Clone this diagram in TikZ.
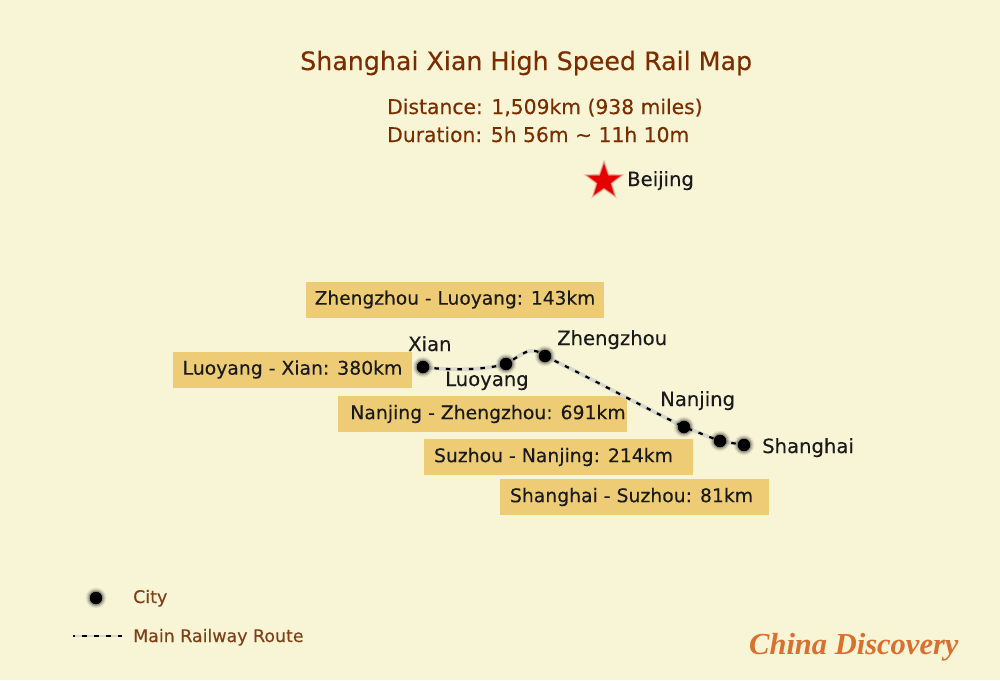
\documentclass[tikz,border=0pt]{standalone}
\usepackage{fontspec}
\setmainfont{DejaVu Sans}[RawFeature={embolden=0.25}]
\newfontfamily\logofont{Liberation Serif}
\usetikzlibrary{shapes.geometric}
\definecolor{paper}{HTML}{F8F4D6}
\definecolor{brown}{HTML}{7A2E00}
\definecolor{legendc}{HTML}{7F3F17}
\definecolor{boxc}{HTML}{EDCC75}
\definecolor{inkc}{HTML}{1A1A1A}
\definecolor{logoc}{HTML}{D9702F}
\definecolor{railc}{HTML}{D8D8CE}
\tikzset{x=1pt,y=-1pt,
  titletext/.style={anchor=base west,inner sep=0pt,text=brown,font=\fontsize{25.3}{30}\selectfont},
  subtext/.style={anchor=base west,inner sep=0pt,text=brown,font=\fontsize{20.3}{24}\selectfont},
  citytext/.style={anchor=base west,inner sep=0pt,text=inkc,font=\fontsize{19.6}{23}\selectfont},
  boxlabel/.style={anchor=center,fill=boxc,inner sep=0pt,text=inkc,minimum height=36pt,font=\fontsize{18.8}{22}\selectfont},
  legendtext/.style={anchor=base west,inner sep=0pt,text=legendc,font=\fontsize{17.4}{20}\selectfont},
  city/.style={circle,fill=black,minimum size=12.5pt,inner sep=0pt},
  railbase/.style={draw=railc,line width=3.8pt},
  raildash/.style={draw=black,line width=2.2pt,dash pattern=on 4.5pt off 7pt},
}
\newcommand{\glowdot}[3]{%
  \foreach \r/\o in {10.5/.05,9.5/.08,8.5/.12,7.5/.2}{\fill[black,opacity=\o] (#2,#3) circle (\r pt);}
  \node[city] (#1) at (#2,#3) {};}
\newcommand{\routepath}{(xianp) .. controls (445,370) and (480,371) .. (luop) .. controls (522,355) and (530,344) .. (zhengp) .. controls (590,378) and (640,405) .. (nanp) -- (suzp) -- (shap)}
\begin{document}
\begin{tikzpicture}
\useasboundingbox (0,0) rectangle (1000,680);
\fill[paper] (0,0) rectangle (1000,680);
% headings
\node[titletext] (title) at (300,70) {Shanghai Xian High Speed Rail Map};
\node[subtext] (dist) at (387,114) {Distance: 1,509km (938 miles)};
\node[subtext] (dura) at (387,142) {Duration: 5h 56m \textasciitilde{} 11h 10m};
% Beijing
\foreach \s/\o in {44/.12,41/.2,38/.3}{\node[star,star points=5,star point ratio=2.5,fill=red!85!black,opacity=\o,minimum size=\s pt,inner sep=0pt] at (604,181) {};}
\node[star,star points=5,star point ratio=2.5,fill=red!90!black,minimum size=34pt,inner sep=0pt] (beijing) at (604,181) {};
\node[citytext] (beijinglabel) at (627,186) {Beijing};
% boxes
\node[boxlabel,minimum width=298pt,font=\fontsize{18.6}{22}\selectfont] (b1) at (455,299.5) {\raisebox{-1pt}{Zhengzhou - Luoyang: 143km}};
\node[boxlabel,minimum width=239pt] (b2) at (292.5,369.5) {\raisebox{-1pt}{Luoyang - Xian: 380km}};
\node[boxlabel,minimum width=289pt] (b3) at (482,414) {\hspace{12pt}\raisebox{-1pt}{Nanjing - Zhengzhou: 691km}};
\node[boxlabel,minimum width=269pt] (b4) at (558.5,457) {\raisebox{-1pt}{Suzhou - Nanjing: 214km}\hspace{10pt}\mbox{}};
\node[boxlabel,minimum width=269pt] (b5) at (634.5,497) {\raisebox{-1pt}{Shanghai - Suzhou: 81km}\hspace{6pt}\mbox{}};
% route
\coordinate (xianp) at (423,367);
\coordinate (luop) at (506,364);
\coordinate (zhengp) at (545,356);
\coordinate (nanp) at (684,427);
\coordinate (suzp) at (720,441);
\coordinate (shap) at (744,445);
\draw[railbase] \routepath;
\draw[raildash] \routepath;
\glowdot{xian}{423}{367}
\glowdot{luoyang}{506}{364}
\glowdot{zhengzhou}{545}{356}
\glowdot{nanjing}{684}{427}
\glowdot{suzhou}{720}{441}
\glowdot{shanghai}{744}{445}
% city labels
\node[citytext] (xianl) at (408,351) {Xian};
\node[citytext] (luol) at (445,386) {Luoyang};
\node[citytext] (zhengl) at (557,345) {Zhengzhou};
\node[citytext] (nanl) at (660,406) {Nanjing};
\node[citytext] (shal) at (762,453) {Shanghai};
% legend
\glowdot{legcity}{96}{598}
\node[legendtext] (legcityl) at (133,603) {City};
\coordinate (lega) at (73,636);
\coordinate (legb) at (122,636);
\draw[draw=railc,line width=2pt] (lega) -- (legb);
\draw[draw=black,line width=1.5pt,dash pattern=on 5pt off 7pt,dash phase=-9pt] (lega) -- (legb);
\node[legendtext] (legrail) at (133,642) {Main Railway Route};
% logo
\node[anchor=base west,inner sep=0pt,text=logoc,font=\logofont\bfseries\itshape\fontsize{30.5}{36}\selectfont] (logo) at (749,654) {China Discovery};
\end{tikzpicture}
\end{document}
